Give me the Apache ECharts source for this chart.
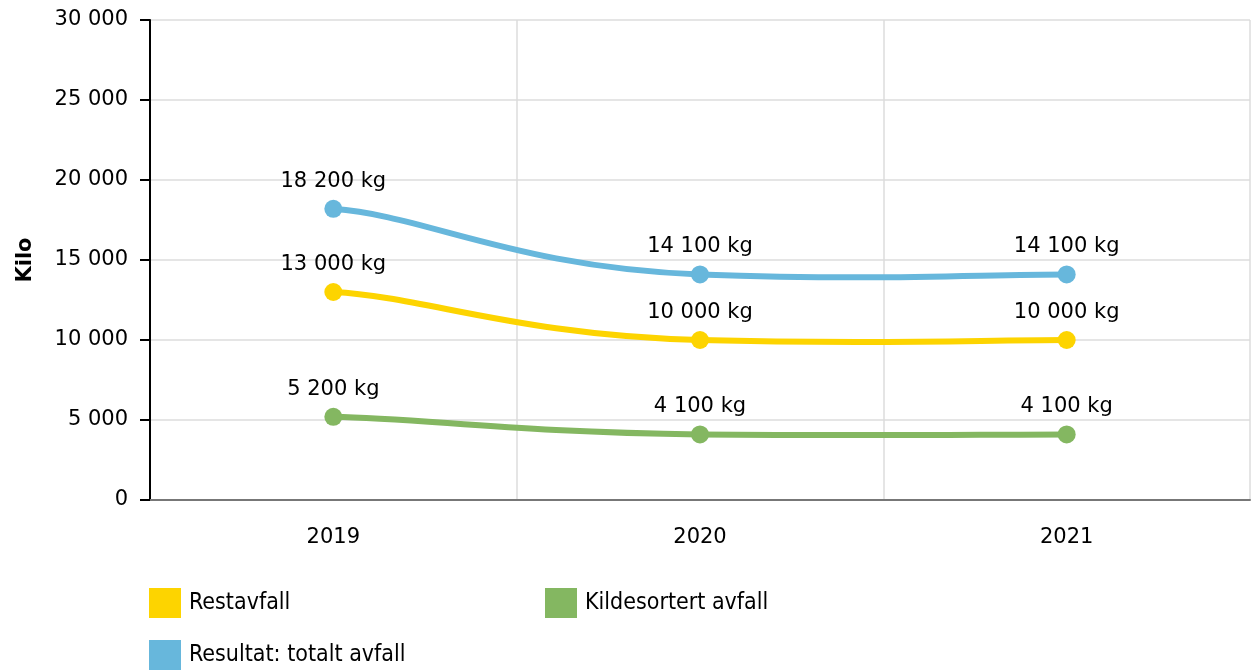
<!DOCTYPE html>
<html>
<head>
<meta charset="utf-8">
<script src="https://cdn.jsdelivr.net/npm/echarts@6/dist/echarts.min.js"></script>
<style>
html, body { margin: 0; padding: 0; background: #fff; }
#chart { width: 1255px; height: 670px; }
</style>
</head>
<body>
<div id="chart"></div>
<script>
const years = ['2019', '2020', '2021']
const restavfall = [13000, 10000, 10000]
const kildesortert = [5200, 4100, 4100]
const totalt = [18200, 14100, 14100]

const colors = { rest: '#fdd400', kilde: '#84b761', total: '#67b7dc' }

// tusenskille med mellomrom
function fmt(v) {
  return String(v).replace(/\B(?=(\d{3})+(?!\d))/g, ' ')
}

let myChart = echarts.init(document.getElementById('chart'))

// punkter + etiketter (linja tegnes av kurveserien under)
function pointSeries(name, data, color) {
  return {
    name: name,
    type: 'line',
    data: data,
    z: 3,
    symbol: 'circle',
    symbolSize: 18,
    lineStyle: { opacity: 0 },
    itemStyle: { color: color },
    label: {
      show: true,
      position: 'top',
      distance: 8,
      color: '#000',
      fontFamily: 'DejaVu Sans',
      fontSize: 21,
      formatter: p => fmt(p.value) + ' kg'
    }
  }
}

// glatt kurve: lange kontrollarmer i x, korte i y
function curveSeries(data, color) {
  return {
    type: 'custom',
    silent: true,
    z: 2,
    data: data.map((v, i) => [i, v]),
    encode: { x: 0, y: 1 },
    renderItem: function (params, api) {
      const i = params.dataIndex
      if (i >= data.length - 1) return null
      const pts = data.map((v, k) => api.coord([k, v]))
      const tan = k => {
        const a = pts[Math.max(k - 1, 0)]
        const b = pts[Math.min(k + 1, pts.length - 1)]
        return [(b[0] - a[0]) / 4, (b[1] - a[1]) / 10]
      }
      const p0 = pts[i], p1 = pts[i + 1]
      const t0 = tan(i), t1 = tan(i + 1)
      return {
        type: 'bezierCurve',
        shape: {
          x1: p0[0], y1: p0[1],
          x2: p1[0], y2: p1[1],
          cpx1: p0[0] + t0[0], cpy1: p0[1] + t0[1],
          cpx2: p1[0] - t1[0], cpy2: p1[1] - t1[1]
        },
        style: { stroke: color, lineWidth: 6, fill: null, lineCap: 'round' }
      }
    }
  }
}

function legendAt(left, top, name) {
  return {
    left: left,
    top: top,
    orient: 'horizontal',
    data: [name],
    icon: 'rect',
    itemWidth: 32,
    itemHeight: 30,
    selectedMode: false,
    textStyle: {
      fontFamily: 'DejaVu Sans Condensed',
      fontSize: 23,
      color: '#000',
      padding: [0, 0, 0, 3]
    }
  }
}

myChart.setOption({
  animation: false,
  textStyle: { fontFamily: 'DejaVu Sans' },
  grid: { left: 150, right: 5, top: 20, bottom: 170, outerBoundsMode: 'none', containLabel: false },
  legend: [
    legendAt(144, 583, 'Restavfall'),
    legendAt(540, 583, 'Kildesortert avfall'),
    legendAt(144, 635, 'Resultat: totalt avfall')
  ],
  xAxis: {
    type: 'category',
    data: years,
    boundaryGap: true,
    axisLine: { lineStyle: { color: '#777', width: 2 } },
    axisTick: { alignWithLabel: true, length: 8, lineStyle: { color: '#aaa', width: 1 } },
    axisLabel: { color: '#000', fontSize: 21, margin: 27 },
    splitLine: { show: true, lineStyle: { color: '#dcdcdc', width: 1.5 } }
  },
  yAxis: {
    type: 'value',
    min: 0,
    max: 30000,
    interval: 5000,
    name: 'Kilo',
    nameLocation: 'middle',
    nameGap: 114,
    nameTextStyle: { color: '#000', fontSize: 21, fontWeight: 'bold' },
    axisLine: { show: true, lineStyle: { color: '#000', width: 2 } },
    axisTick: { show: true, length: 10, lineStyle: { color: '#000', width: 2 } },
    axisLabel: { color: '#000', fontSize: 21, margin: 22, formatter: v => fmt(v) },
    splitLine: { show: true, lineStyle: { color: '#dcdcdc', width: 1.5 } }
  },
  series: [
    curveSeries(kildesortert, colors.kilde),
    curveSeries(restavfall, colors.rest),
    curveSeries(totalt, colors.total),
    pointSeries('Kildesortert avfall', kildesortert, colors.kilde),
    pointSeries('Restavfall', restavfall, colors.rest),
    pointSeries('Resultat: totalt avfall', totalt, colors.total)
  ]
})
</script>
</body>
</html>
